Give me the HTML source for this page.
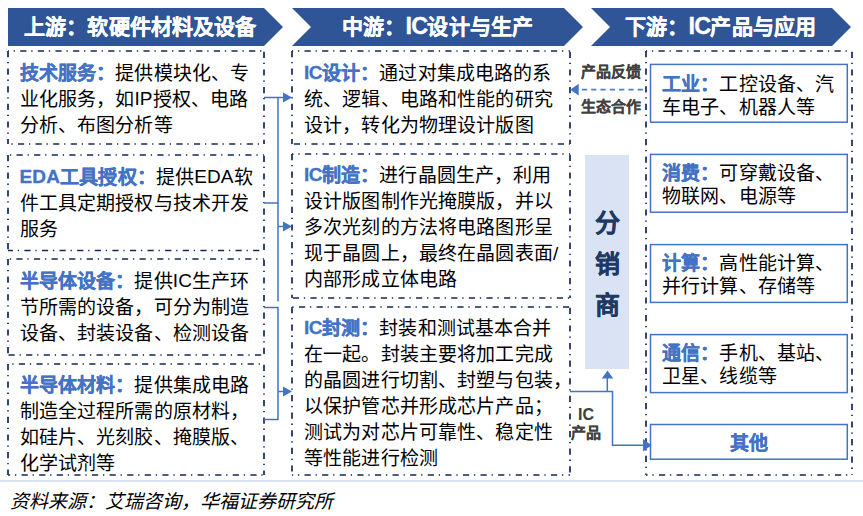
<!DOCTYPE html>
<html lang="zh-CN">
<head>
<meta charset="utf-8">
<style>
html,body{margin:0;padding:0;background:#fff;}
body{width:863px;height:516px;position:relative;overflow:hidden;font-family:"Liberation Sans",sans-serif;}
svg{position:absolute;left:0;top:0;}
.t{position:absolute;white-space:nowrap;font-size:19px;letter-spacing:0.15px;color:#000;}
.lh26{line-height:26px;}
.lh23{line-height:23px;}
.b{color:#4472C4;font-weight:bold;-webkit-text-stroke:0.3px #4472C4;}
.lat{position:relative;top:-1px;}
.hd{position:absolute;white-space:nowrap;font-size:21px;letter-spacing:0.15px;font-weight:bold;color:#fff;line-height:38px;top:8px;-webkit-text-stroke:0.3px #fff;}
.small{position:absolute;white-space:nowrap;font-size:15px;font-weight:bold;color:#404040;-webkit-text-stroke:0.1px #404040;}
.dist{position:absolute;font-size:25px;font-weight:bold;color:#203864;-webkit-text-stroke:0.3px #203864;line-height:41.1px;text-align:center;}
.foot{position:absolute;white-space:nowrap;font-size:19px;font-style:italic;color:#000;}
</style>
</head>
<body>
<svg width="863" height="516" viewBox="0 0 863 516">
  <!-- chevrons -->
  <polygon points="8,8 264,8 283,27 264,46 8,46" fill="#2F5597"/>
  <polygon points="292,8 564,8 583,27 564,46 292,46 311,27" fill="#2F5597"/>
  <polygon points="591,8 832,8 851,27 832,46 591,46 610,27" fill="#2F5597"/>

  <!-- dashed boxes -->
  <g fill="none" stroke="#13285A" stroke-width="1.7" stroke-dasharray="6.2 4.8 1.3 5.3">
    <path d="M8,51 H264" stroke-dashoffset="5.35"/>
    <path d="M8,51 V144" stroke-dashoffset="0"/>
    <path d="M264,51 V144" stroke-dashoffset="-0.8"/>
    <path d="M8,144 H264" stroke-dashoffset="7.65"/>
    <path d="M8,155 H264" stroke-dashoffset="9.05"/>
    <path d="M8,155 V250" stroke-dashoffset="0"/>
    <path d="M264,155 V250" stroke-dashoffset="-0.8"/>
    <path d="M8,250.5 H264" stroke-dashoffset="1.25"/>
    <path d="M8,259 H264" stroke-dashoffset="9.25"/>
    <path d="M8,259 V355" stroke-dashoffset="0"/>
    <path d="M264,259 V355" stroke-dashoffset="-0.8"/>
    <path d="M8,355 H264" stroke-dashoffset="-0.55"/>
    <path d="M8,364 H264" stroke-dashoffset="6.75"/>
    <path d="M8,364 V475" stroke-dashoffset="0"/>
    <path d="M264,364 V475" stroke-dashoffset="-0.8"/>
    <path d="M8,475 H264" stroke-dashoffset="4.05"/>
    <path d="M292,51 H570" stroke-dashoffset="5.05"/>
    <path d="M292,51 V144" stroke-dashoffset="0"/>
    <path d="M570,51 V144" stroke-dashoffset="-0.8"/>
    <path d="M292,144 H570" stroke-dashoffset="-1.85"/>
    <path d="M292,154 H570" stroke-dashoffset="4.65"/>
    <path d="M292,154 V298" stroke-dashoffset="0"/>
    <path d="M570,154 V298" stroke-dashoffset="-0.8"/>
    <path d="M292,298 H570" stroke-dashoffset="-0.85"/>
    <path d="M292,307 H570" stroke-dashoffset="10.65"/>
    <path d="M292,307 V475" stroke-dashoffset="0"/>
    <path d="M570,307 V475" stroke-dashoffset="-0.8"/>
    <path d="M292,475 H570" stroke-dashoffset="5.05"/>
    <path d="M646,51 H852" stroke-dashoffset="5.05"/>
    <path d="M646,51 V475" stroke-dashoffset="0"/>
    <path d="M852,51 V475" stroke-dashoffset="-0.8"/>
    <path d="M646,475 H852" stroke-dashoffset="4.65"/>
  </g>

  <!-- solid inner boxes right -->
  <g fill="#fff" stroke="#4472C4" stroke-width="1.5">
    <rect x="650.5" y="64.4" width="196.8" height="57.8"/>
    <rect x="650.5" y="154.4" width="196.8" height="57.8"/>
    <rect x="650.5" y="244.6" width="196.8" height="57.8"/>
    <rect x="650.5" y="334.6" width="196.8" height="58"/>
    <rect x="650.5" y="424.5" width="196.8" height="34.7"/>
  </g>

  <!-- distributor -->
  <rect x="585" y="155" width="44" height="214" fill="#DAE3F3"/>

  <!-- connectors -->
  <g fill="none" stroke="#4472C4" stroke-width="1.5">
    <path d="M264,97.5 H284"/>
    <path d="M278,97.5 V301.5"/>
    <path d="M264,203 H278"/>
    <path d="M278,226.5 H284"/>
    <path d="M264,307.5 H278 V419.5 H264"/>
    <path d="M278,391.5 H284"/>
    <path d="M570,391.4 H612.5 V445.3 H644"/>
    <path d="M607.3,391.4 V377"/>
  </g>
  <g fill="#4472C4">
    <polygon points="283,92.5 292,97.5 283,102.5"/>
    <polygon points="283,221.5 292,226.5 283,231.5"/>
    <polygon points="283,386.5 292,391.5 283,396.5"/>
    <polygon points="643,439 651.5,445.3 643,451.6"/>
    <polygon points="601.8,378.5 607.5,370.5 613.3,378.5"/>
    <polygon points="578.7,83.8 570.2,89.7 578.7,95.5"/>
  </g>
  <path d="M581.9,89.6 H646" stroke="#4F7FCC" stroke-width="1.6" stroke-dasharray="5.2 4.1" fill="none"/>

  <!-- footer line -->
  <rect x="0" y="480.1" width="863" height="1.7" fill="#D5DFF1"/>
</svg>

<!-- headers -->
<div class="hd" style="left:24px">上游：软硬件材料及设备</div>
<div class="hd" style="left:342px">中游：<span style="font-size:23.5px;letter-spacing:-0.8px;line-height:1px">IC</span>设计与生产</div>
<div class="hd" style="left:625px">下游：<span style="font-size:23.5px;letter-spacing:-0.8px;line-height:1px">IC</span>产品与应用</div>

<!-- left column -->
<div class="t lh26" style="left:19.5px;top:61px"><span class="b">技术服务：</span>提供模块化、专<br>业化服务，如<span class="lat">IP</span>授权、电路<br>分析、布图分析等</div>
<div class="t lh26" style="left:19.5px;top:165px"><span class="b"><span class="lat">EDA</span>工具授权：</span>提供<span class="lat">EDA</span>软<br>件工具定期授权与技术开发<br>服务</div>
<div class="t lh26" style="left:19.5px;top:268.5px"><span class="b">半导体设备：</span>提供<span class="lat">IC</span>生产环<br>节所需的设备，可分为制造<br>设备、封装设备、检测设备</div>
<div class="t lh26" style="left:19.5px;top:373px"><span class="b">半导体材料：</span>提供集成电路<br>制造全过程所需的原材料，<br>如硅片、光刻胶、掩膜版、<br>化学试剂等</div>

<!-- middle column -->
<div class="t lh26" style="left:304px;top:61px"><span class="b"><span class="lat" style="letter-spacing:-0.6px">IC</span>设计：</span>通过对集成电路的系<br>统、逻辑、电路和性能的研究<br>设计，转化为物理设计版图</div>
<div class="t lh26" style="left:304px;top:163px"><span class="b"><span class="lat" style="letter-spacing:-0.6px">IC</span>制造：</span>进行晶圆生产，利用<br>设计版图制作光掩膜版，并以<br>多次光刻的方法将电路图形呈<br>现于晶圆上，最终在晶圆表面/<br>内部形成立体电路</div>
<div class="t lh26" style="left:304px;top:316px"><span class="b"><span class="lat" style="letter-spacing:-0.6px">IC</span>封测：</span>封装和测试基本合并<br>在一起。封装主要将加工完成<br>的晶圆进行切割、封塑与包装，<br>以保护管芯并形成芯片产品；<br>测试为对芯片可靠性、稳定性<br>等性能进行检测</div>

<!-- feedback labels -->
<div class="small" style="left:581px;top:60px">产品反馈</div>
<div class="small" style="left:581px;top:95px">生态合作</div>
<div class="small" style="left:566px;top:404.5px;text-align:center;width:40px;font-size:16px;line-height:20px">IC</div>
<div class="small" style="left:566px;top:423px;text-align:center;width:40px;line-height:20px">产品</div>

<!-- distributor -->
<div class="dist" style="left:585px;top:203px;width:44px">分<br>销<br>商</div>

<!-- right column -->
<div class="t lh23" style="left:662px;top:73px"><span class="b">工业：</span>工控设备、汽<br>车电子、机器人等</div>
<div class="t lh23" style="left:662px;top:162px"><span class="b">消费：</span>可穿戴设备、<br>物联网、电源等</div>
<div class="t lh23" style="left:662px;top:252px"><span class="b">计算：</span>高性能计算、<br>并行计算、存储等</div>
<div class="t lh23" style="left:662px;top:342px"><span class="b">通信：</span>手机、基站、<br>卫星、线缆等</div>
<div class="t b" style="left:651px;top:432px;width:196px;text-align:center;line-height:23px">其他</div>

<!-- footer -->
<div class="foot" style="left:10px;top:485.5px">资料来源：艾瑞咨询，华福证券研究所</div>
</body>
</html>
